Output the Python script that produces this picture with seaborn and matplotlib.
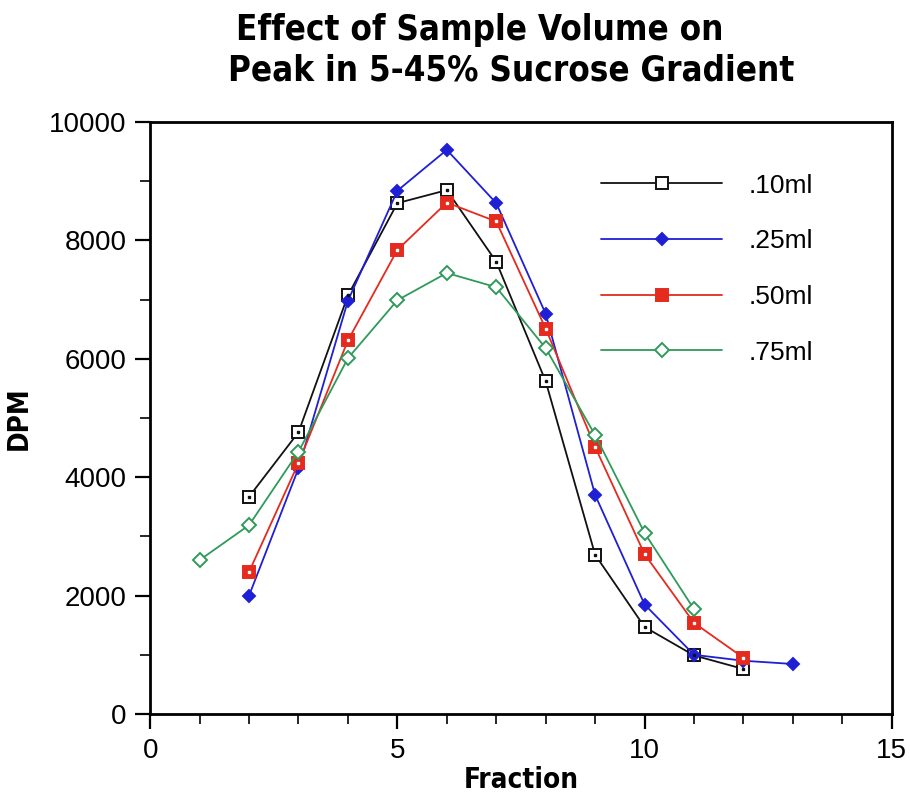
import matplotlib
matplotlib.use("Agg")
import matplotlib.pyplot as plt
import seaborn as sns
import pandas as pd

# Fractions and DPM
fractions_10 = [2, 3, 4, 5, 6, 7, 8, 9, 10, 11, 12]
dpm_10 = [3670, 4760, 7070, 8630, 8850, 7640, 5620, 2690, 1470, 990, 760]

fractions_25 = [2, 3, 4, 5, 6, 7, 8, 9, 10, 11, 12, 13]
dpm_25 = [2000, 4150, 6980, 8840, 9530, 8630, 6760, 3700, 1850, 1000, 900, 845]

fractions_50 = [2, 3, 4, 5, 6, 7, 8, 9, 10, 11, 12]
dpm_50 = [2400, 4240, 6310, 7840, 8640, 8320, 6510, 4510, 2700, 1540, 950]

fractions_75 = [1, 2, 3, 4, 5, 6, 7, 8, 9, 10, 11]
dpm_75 = [2600, 3190, 4430, 6010, 6990, 7450, 7210, 6180, 4710, 3060, 1770]

labels = [".10ml", ".25ml", ".50ml", ".75ml"]
x_ticks = [0, 5, 10, 15]
y_ticks = [0, 2000, 4000, 6000, 8000, 10000]

sns.set_style("white")
plt.rcParams["font.family"] = ["Liberation Sans", "DejaVu Sans"]
plt.rcParams["text.color"] = "black"
plt.rcParams["axes.labelcolor"] = "black"
bold = dict(family="DejaVu Sans", fontweight="bold", fontstretch="condensed",
            color="black")

fig = plt.figure(figsize=(9.1, 7.93), dpi=100)
ax = fig.add_axes([0.165, 0.0996, 0.815, 0.7465])

series = [
    (fractions_10, dpm_10, "#111111", "s", "white", 8.5, "#111111"),
    (fractions_25, dpm_25, "#1f1fd6", "D", "#1f1fd6", 6.5, None),
    (fractions_50, dpm_50, "#e52a1e", "s", "#e52a1e", 8.5, "white"),
    (fractions_75, dpm_75, "#2f9a5a", "D", "white", 7.5, None),
]

for (xs, ys, color, marker, face, size, dot), label in zip(series, labels):
    df = pd.DataFrame({"Fraction": xs, "DPM": ys})
    sns.lineplot(data=df, x="Fraction", y="DPM", ax=ax, color=color,
                 marker=marker, markerfacecolor=face, markeredgecolor=color,
                 markersize=size, markeredgewidth=1.4, linewidth=1.3,
                 label=label, zorder=3)
    if dot is not None:
        ax.plot(xs, ys, linestyle="none", marker="s", markersize=2,
                color=dot, zorder=4)

ax.set_xlim(0, 15)
ax.set_ylim(0, 10000)
ax.set_xticks(x_ticks)
ax.set_yticks(y_ticks)
ax.set_xticks(range(0, 16), minor=True)
ax.set_yticks(range(0, 10001, 1000), minor=True)
ax.tick_params(which="major", direction="out", length=11, width=1.6,
               labelsize=20, colors="black", pad=6, bottom=True, left=True)
ax.tick_params(which="minor", direction="out", length=7, width=1.4,
               bottom=True, left=True)
for spine in ax.spines.values():
    spine.set_color("black")
    spine.set_linewidth(2)

ax.set_xlabel("Fraction", fontsize=20, labelpad=2, **bold)
ax.set_ylabel("DPM", fontsize=20, labelpad=12, **bold)

fig.text(0.527, 0.962, "Effect of Sample Volume on", ha="center", va="center",
         fontsize=25, **bold)
fig.text(0.562, 0.911, "Peak in 5-45% Sucrose Gradient", ha="center",
         va="center", fontsize=25, **bold)

ax.legend(loc="upper left", bbox_to_anchor=(0.59, 0.935), frameon=False,
          fontsize=19, handlelength=4.6, handletextpad=1.0, labelspacing=1.2,
          numpoints=1, borderpad=0)

fig.savefig("out.png", dpi=100)
